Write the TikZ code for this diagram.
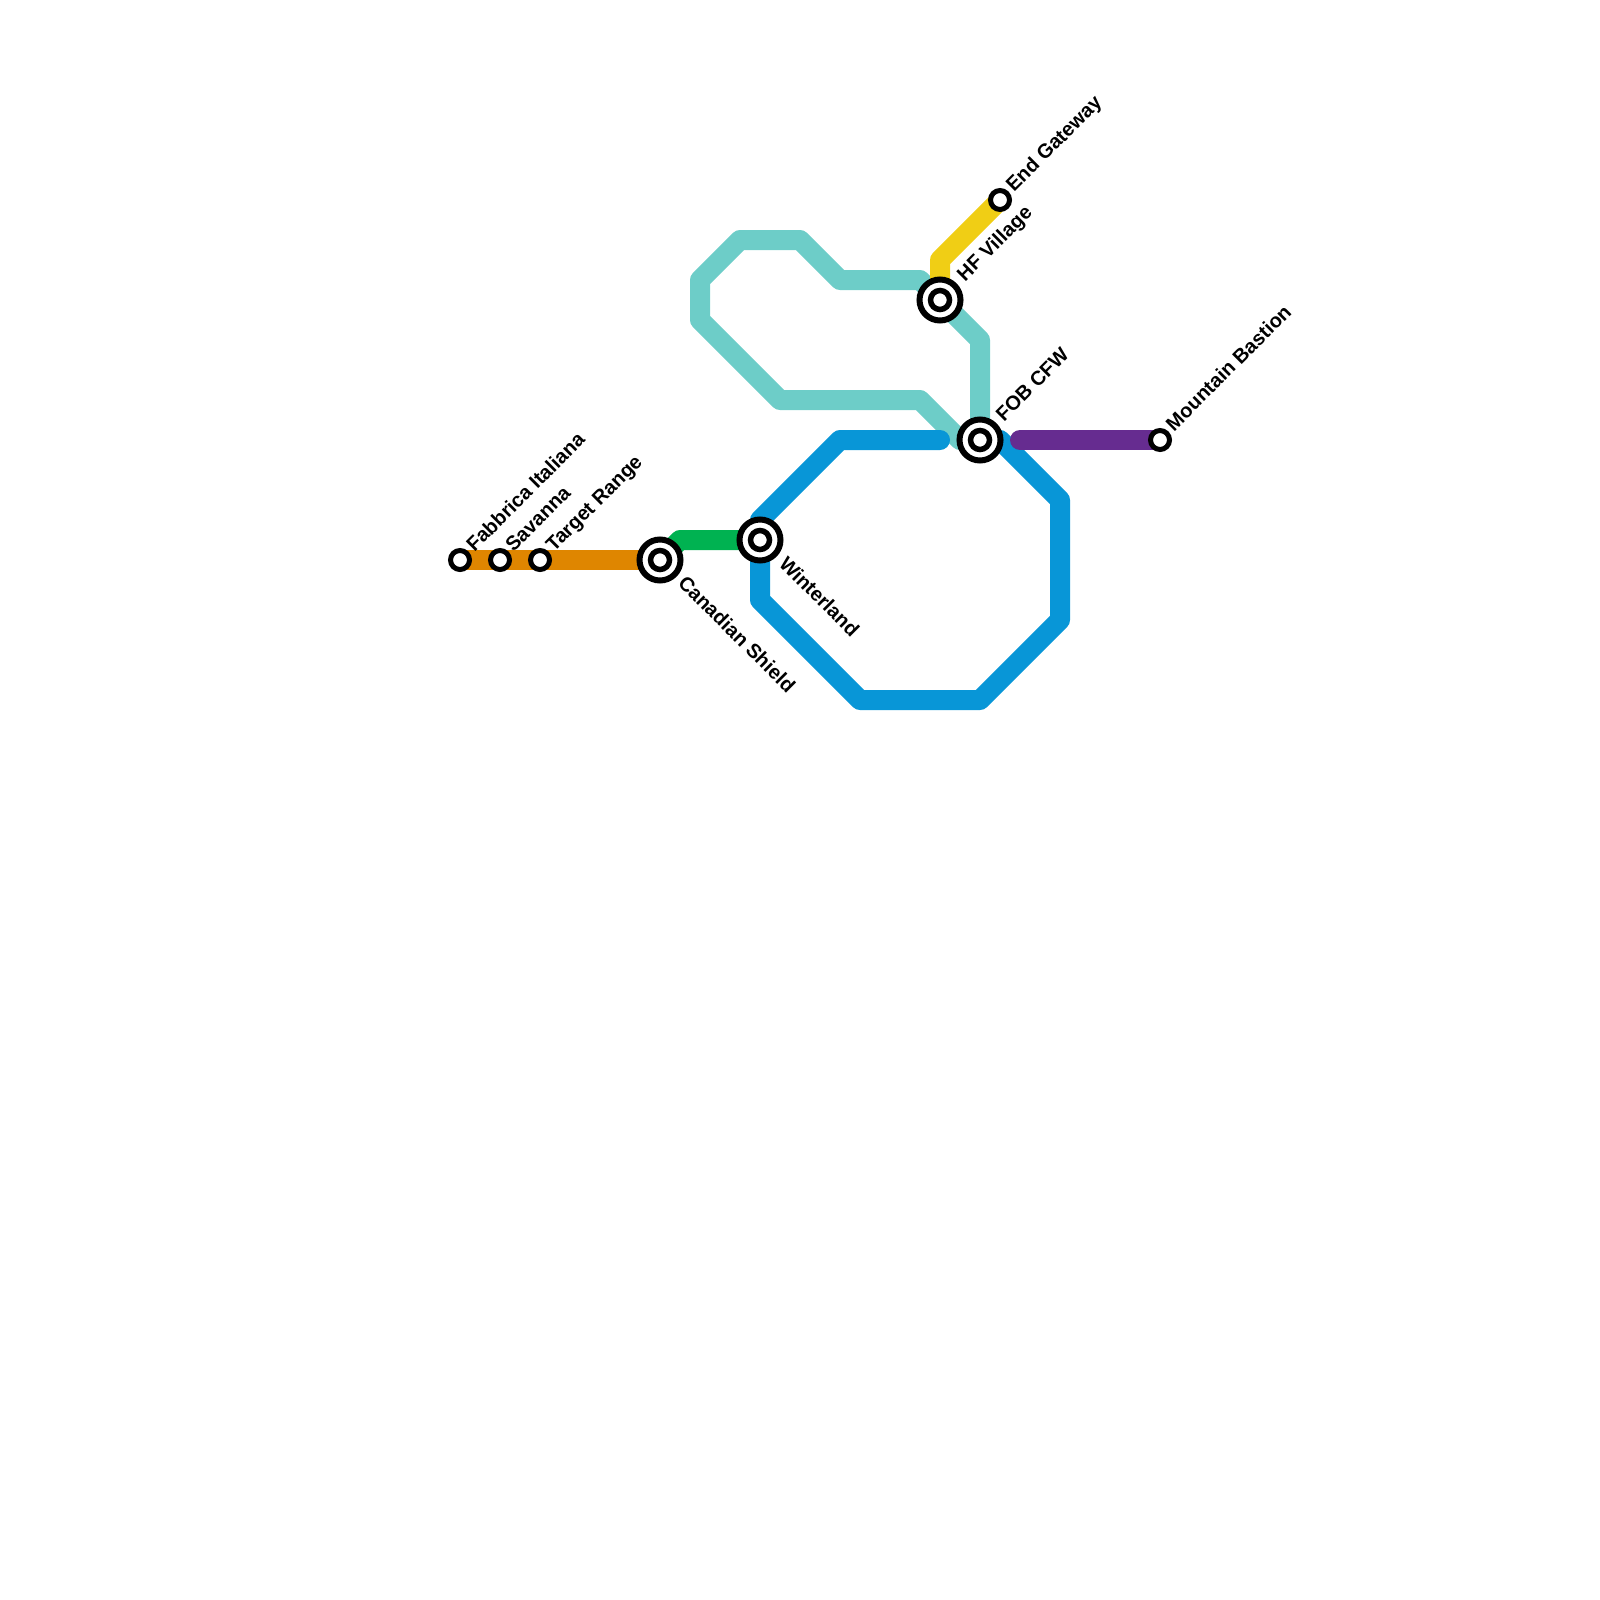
\documentclass[tikz,border=0pt]{standalone}
\usepackage{fontspec}
\setmainfont{Liberation Sans}
\usetikzlibrary{backgrounds}
\definecolor{cOrange}{HTML}{DF8600}
\definecolor{cGreen}{HTML}{00B251}
\definecolor{cBlue}{HTML}{0896D7}
\definecolor{cTeal}{HTML}{6DCDC8}
\definecolor{cYellow}{HTML}{F0CE15}
\definecolor{cPurple}{HTML}{662C90}
\newcommand{\px}{0.1cm}
\tikzset{
  x=\px,y=-\px,
  metro/.style={line width=2cm,line cap=round,line join=round},
  smallstop/.style={circle,draw=black,fill=white,line width=0.5cm,minimum size=1.9cm,inner sep=0pt,outer sep=0pt},
  bigstop/.style={circle,draw=black,fill=white,line width=0.6cm,minimum size=4.1cm,inner sep=0pt,outer sep=0pt},
  bigcore/.style={circle,draw=black,fill=white,line width=0.55cm,minimum size=1.9cm,inner sep=0pt,outer sep=0pt},
  lab/.style={font=\bfseries\fontsize{56.9pt}{60pt}\selectfont,inner sep=0pt,outer sep=0pt,text=black},
  labup/.style={lab,rotate=45,anchor=base west},
  labdown/.style={lab,rotate=-45,anchor=base west},
}
\begin{document}
\begin{tikzpicture}
\useasboundingbox (0,0) rectangle (1600,1600);
% stations
\node[smallstop] (fab) at (460,560) {};
\node[smallstop] (sav) at (500,560) {};
\node[smallstop] (tar) at (540,560) {};
\node[smallstop] (end) at (1000,200) {};
\node[smallstop] (mou) at (1160,440) {};
\node[bigstop] (can) at (660,560) {};
\node[bigcore] (canc) at (660,560) {};
\node[bigstop] (win) at (760,540) {};
\node[bigcore] (winc) at (760,540) {};
\node[bigstop] (hfv) at (940,300) {};
\node[bigcore] (hfvc) at (940,300) {};
\node[bigstop] (fob) at (980,440) {};
\node[bigcore] (fobc) at (980,440) {};
% free ends
\coordinate (blueEnd) at (940,440);
\coordinate (purpleEnd) at (1020,440);
\coordinate (tealEnd) at (960,440);
% labels
\node[labup] (lfab) at (474.5,552.5) {Fabbrica Italiana};
\node[labup] (lsav) at (513.5,552.5) {Savanna};
\node[labup] (ltar) at (554,552.5) {Target Range};
\node[labup] (lend) at (1014,192.5) {End Gateway};
\node[labup] (lmou) at (1174,432) {Mountain Bastion};
\node[labup] (lhfv) at (965,282) {HF Village};
\node[labup] (lfob) at (1004,422) {FOB CFW};
\node[labdown] (lcan) at (677,584) {Canadian Shield};
\node[labdown] (lwin) at (778,565) {Winterland};
\begin{scope}[on background layer]
\draw[metro,cOrange,line cap=butt] (fab.center) -- (can.center);
\draw[metro,cGreen] (can.center) -- (680,540) -- (win.center);
\draw[metro,cTeal] (fob.center) -- (980,340) -- (hfv.center) -- (920,280) -- (840,280) -- (800,240) -- (740,240) -- (700,280) -- (700,320) -- (780,400) -- (920,400) -- (tealEnd);
\draw[metro,cYellow] (end.center) -- (940,260) -- (hfv.center);
\draw[metro,cBlue] (blueEnd) -- (840,440) -- (760,520) -- (760,600) -- (860,700) -- (980,700) -- (1060,620) -- (1060,500) -- (1000,440) -- (fob.center);
\draw[metro,cPurple] (purpleEnd) -- (mou.center);
\end{scope}
\end{tikzpicture}
\end{document}
